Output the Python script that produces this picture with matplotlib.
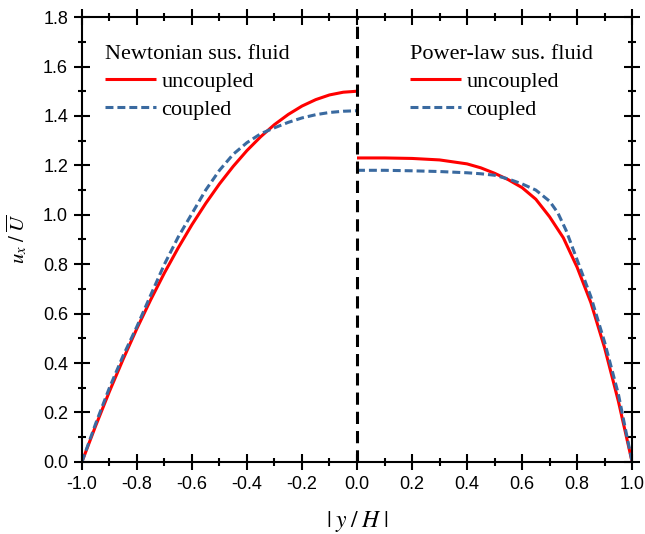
import numpy as np
import matplotlib
matplotlib.use("Agg")
import matplotlib.pyplot as plt

# Newtonian suspending fluid (left half, y/H from -1 to 0)
y_newt = [-1.0, -0.95, -0.9, -0.85, -0.8, -0.75, -0.7, -0.65, -0.6, -0.55, -0.5,
          -0.45, -0.4, -0.35, -0.3, -0.25, -0.2, -0.15, -0.1, -0.05, 0.0]
u_newt_uncoupled = [0.0, 0.146, 0.285, 0.416, 0.54, 0.656, 0.765, 0.866, 0.96, 1.046, 1.125,
                    1.196, 1.26, 1.316, 1.365, 1.406, 1.44, 1.466, 1.485, 1.496, 1.5]
u_newt_coupled = [0.0, 0.155, 0.30, 0.43, 0.548, 0.675, 0.80, 0.91, 1.005, 1.10, 1.18,
                  1.245, 1.292, 1.328, 1.352, 1.374, 1.392, 1.405, 1.414, 1.419, 1.421]

# Power-law suspending fluid (right half, y/H from 0 to 1)
y_pl_unc = [0.0, 0.1, 0.2, 0.3, 0.4, 0.45, 0.5, 0.55, 0.6, 0.65, 0.7,
            0.75, 0.8, 0.85, 0.9, 0.95, 1.0]
u_pl_uncoupled = [1.23, 1.23, 1.228, 1.222, 1.206, 1.19, 1.168, 1.142, 1.11, 1.063, 0.992,
                  0.907, 0.788, 0.645, 0.462, 0.246, 0.0]
y_pl_cpl = [0.0, 0.1, 0.2, 0.3, 0.4, 0.45, 0.5, 0.55, 0.6, 0.65, 0.7,
            0.73, 0.76, 0.8, 0.85, 0.9, 0.95, 1.0]
u_pl_coupled = [1.18, 1.18, 1.178, 1.175, 1.17, 1.166, 1.16, 1.145, 1.125, 1.10, 1.055,
                1.008, 0.937, 0.818, 0.669, 0.485, 0.275, 0.0]

x_ticks = [-1.0, -0.8, -0.6, -0.4, -0.2, 0.0, 0.2, 0.4, 0.6, 0.8, 1.0]
x_labels = ["-1.0", "-0.8", "-0.6", "-0.4", "-0.2", "0.0", "0.2", "0.4", "0.6", "0.8", "1.0"]
y_ticks = [0.0, 0.2, 0.4, 0.6, 0.8, 1.0, 1.2, 1.4, 1.6, 1.8]
y_labels = ["0.0", "0.2", "0.4", "0.6", "0.8", "1.0", "1.2", "1.4", "1.6", "1.8"]

red = "#ff0000"
blue = "#3a6aa0"

plt.rcParams["mathtext.fontset"] = "stix"

fig = plt.figure(figsize=(6.45, 5.34), dpi=100)
ax = fig.add_axes([0.127, 0.135, 0.853, 0.833])

l1, = ax.plot(y_newt, u_newt_uncoupled, color=red, lw=2.2, solid_capstyle="butt")
l2, = ax.plot(y_newt, u_newt_coupled, color=blue, lw=2.2, dashes=(2.6, 1.3))
l3, = ax.plot(y_pl_unc, u_pl_uncoupled, color=red, lw=2.2, solid_capstyle="butt")
l4, = ax.plot(y_pl_cpl, u_pl_coupled, color=blue, lw=2.2, dashes=(2.6, 1.3))
ax.axvline(0.0, color="black", lw=2.2, dashes=(4, 2.3))

ax.set_xlim(-1.0, 1.0)
ax.set_ylim(0.0, 1.8)
ax.set_xticks(x_ticks, x_labels)
ax.set_xticks(np.arange(-1.0, 1.01, 0.1), minor=True)
ax.set_yticks(y_ticks, y_labels)
ax.set_yticks(np.arange(0.0, 1.81, 0.1), minor=True)

ax.tick_params(which="both", direction="inout", top=True, right=True, width=1.5)
ax.tick_params(which="major", length=12, labelsize=13, pad=4)
ax.tick_params(which="minor", length=6)
for lab in ax.get_xticklabels() + ax.get_yticklabels():
    lab.set_fontfamily("Liberation Sans")
for sp in ax.spines.values():
    sp.set_linewidth(1.5)

ax.set_xlabel(r"$|\;y\;/\;H\;|$", fontsize=17, labelpad=12)
ax.set_ylabel(r"$u_x\;/\;\overline{U}$", fontsize=15, labelpad=10)

leg_kw = dict(frameon=False, loc="upper left", borderpad=0, handlelength=2.3,
              handletextpad=0.25, labelspacing=0.33,
              prop={"family": "Liberation Serif", "size": 16},
              title_fontproperties={"family": "Liberation Serif", "size": 16},
              alignment="left")
leg1 = ax.legend([l1, l2], ["uncoupled", "coupled"], title="Newtonian sus. fluid",
                 bbox_to_anchor=(0.021, 0.962), **leg_kw)
ax.add_artist(leg1)
ax.legend([l3, l4], ["uncoupled", "coupled"], title="Power-law sus. fluid",
          bbox_to_anchor=(0.576, 0.962), **leg_kw)

fig.savefig("out.png", dpi=100)
